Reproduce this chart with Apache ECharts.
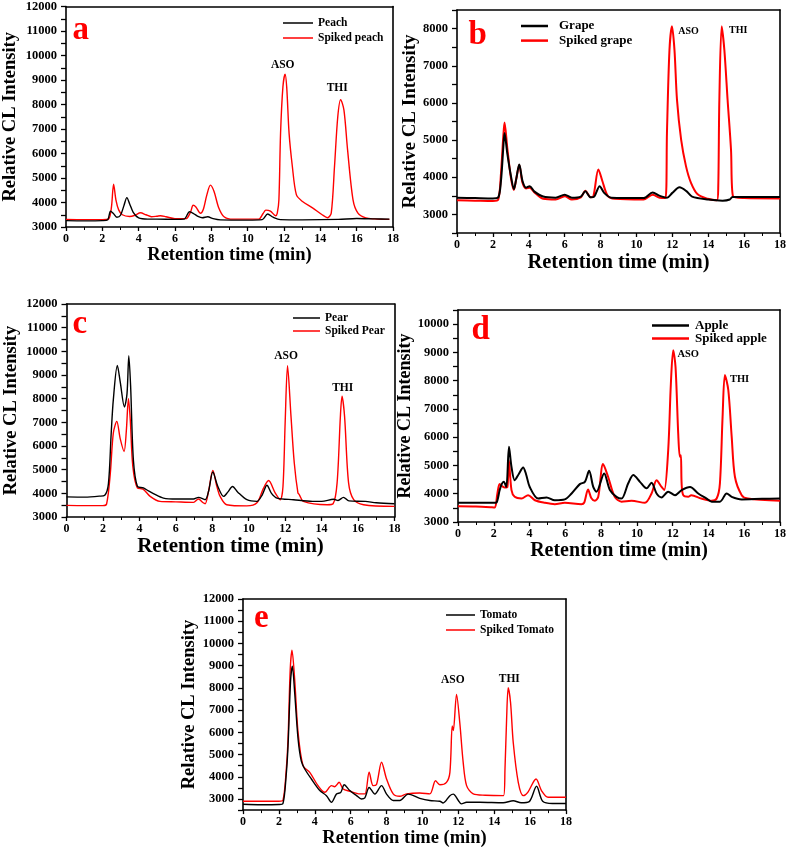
<!DOCTYPE html>
<html><head><meta charset="utf-8">
<script src="https://cdn.jsdelivr.net/npm/echarts@6/dist/echarts.min.js"></script>
<style>html,body{margin:0;padding:0;background:#fff}#c{width:789px;height:849px}</style>
</head><body><div id="c"></div>
<script>
// ---------- DATA (retention time min, relative CL intensity) ----------
const peach = [[0,3260],[1,3250],[2,3260],[2.3,3300],[2.45,3650],[2.6,3560],[2.8,3400],[3.0,3480],[3.2,3900],[3.35,4200],[3.5,3950],[3.7,3600],[4.0,3370],[4.5,3320],[5,3320],[6,3310],[6.5,3320],[6.8,3620],[7.0,3560],[7.3,3420],[7.5,3380],[7.8,3420],[8.1,3340],[8.5,3290],[10,3280],[10.8,3300],[11.1,3530],[11.4,3400],[11.8,3300],[13,3290],[15,3310],[16,3350],[17,3330],[17.8,3320]];
const spikedPeach = [[0,3310],[1,3300],[2,3300],[2.35,3330],[2.5,3800],[2.62,4750],[2.75,4100],[2.9,3700],[3.1,3500],[3.5,3430],[3.8,3480],[4.1,3580],[4.4,3500],[4.7,3420],[5.0,3440],[5.2,3460],[5.5,3420],[6.0,3340],[6.6,3340],[6.85,3600],[7.0,3890],[7.15,3820],[7.4,3560],[7.55,3700],[7.75,4300],[7.95,4710],[8.15,4450],[8.4,3800],[8.7,3420],[9.2,3320],[10.6,3320],[10.85,3550],[11.0,3690],[11.25,3650],[11.54,3460],[11.63,3570],[11.72,4110],[11.81,6820],[11.94,8720],[12.06,9240],[12.15,8700],[12.28,6820],[12.46,5470],[12.68,4320],[13.0,4050],[13.57,3780],[14.1,3500],[14.4,3380],[14.6,3570],[14.78,5470],[14.96,7500],[15.12,8200],[15.3,7770],[15.5,6150],[15.8,4110],[16.07,3570],[16.5,3370],[17,3330],[17.8,3310]];

const grape = [[0,3450],[1,3440],[2,3430],[2.3,3460],[2.45,3900],[2.58,4800],[2.65,5190],[2.8,4650],[3.0,4050],[3.17,3680],[3.3,3950],[3.47,4340],[3.65,3900],[3.85,3720],[4.05,3760],[4.3,3620],[4.8,3480],[5.5,3450],[6.0,3530],[6.4,3450],[6.9,3480],[7.15,3620],[7.45,3460],[7.65,3480],[7.95,3760],[8.2,3580],[8.6,3450],[10.4,3440],[10.9,3590],[11.3,3500],[11.7,3450],[12.0,3580],[12.4,3730],[12.8,3620],[13.1,3480],[14.0,3400],[14.8,3370],[15.2,3400],[15.35,3470],[16,3470],[18,3470]];
const spikedGrape = [[0,3380],[1,3370],[2,3360],[2.3,3400],[2.45,4100],[2.58,5100],[2.65,5470],[2.8,4800],[3.0,4000],[3.17,3660],[3.3,3950],[3.47,4330],[3.65,3850],[3.85,3700],[4.05,3720],[4.3,3600],[4.8,3420],[5.5,3400],[6.0,3490],[6.4,3400],[6.9,3460],[7.15,3640],[7.45,3460],[7.6,3490],[7.88,4210],[8.1,3900],[8.4,3500],[8.8,3420],[10.4,3400],[10.9,3530],[11.3,3450],[11.62,3440],[11.7,5190],[11.84,7420],[11.98,8060],[12.12,7420],[12.26,6080],[12.49,5010],[12.76,4300],[13.04,3850],[13.41,3540],[13.97,3420],[14.49,3380],[14.56,3760],[14.62,6080],[14.75,8060],[14.9,7420],[15.08,6080],[15.27,4740],[15.38,3490],[16,3440],[18,3430]];

const pear = [[0,3850],[1,3840],[1.8,3880],[2.1,3920],[2.3,4400],[2.45,6500],[2.57,7960],[2.79,9400],[2.95,8700],[3.18,7650],[3.32,8200],[3.42,9820],[3.52,8500],[3.67,5420],[3.89,4300],[4.22,4230],[4.5,4100],[4.77,3990],[5.32,3800],[6.05,3760],[6.97,3760],[7.24,3830],[7.61,3730],[7.8,4100],[8.03,4900],[8.3,4300],[8.62,3870],[8.85,4050],[9.11,4290],[9.4,4050],[9.9,3730],[10.45,3660],[10.75,3950],[11.0,4340],[11.25,4000],[11.55,3800],[12.46,3730],[13.5,3660],[14.0,3660],[14.66,3750],[14.9,3700],[15.2,3830],[15.5,3680],[16.4,3660],[17,3600],[18,3560]];
const spikedPear = [[0,3490],[1,3480],[2,3480],[2.2,3550],[2.4,4800],[2.57,6550],[2.76,7040],[2.95,6300],[3.16,5770],[3.28,6600],[3.4,8000],[3.5,7100],[3.64,5140],[3.89,4230],[4.2,4180],[4.59,3870],[5.13,3660],[6.0,3640],[6.97,3620],[7.24,3760],[7.5,3600],[7.61,3560],[7.8,4100],[8.03,4970],[8.25,4300],[8.43,3870],[8.79,3520],[9.9,3470],[10.45,3600],[10.8,4200],[11.09,4540],[11.45,4020],[11.73,3730],[11.88,4290],[12.0,7000],[12.13,9390],[12.32,7250],[12.5,5280],[12.7,4020],[12.78,3940],[13.0,3660],[14.3,3520],[14.63,3560],[14.85,4440],[15.03,7250],[15.12,8100],[15.26,7250],[15.48,4440],[15.76,3730],[16.3,3520],[18,3450]];

const apple = [[0,3680],[1,3680],[2,3680],[2.15,3690],[2.33,4130],[2.45,4350],[2.56,4420],[2.7,4240],[2.85,5660],[2.99,4950],[3.17,4480],[3.4,4700],[3.64,4930],[3.8,4700],[4.01,4240],[4.48,3830],[4.95,3870],[5.41,3770],[5.97,3800],[6.35,4010],[6.81,4340],[7.09,4420],[7.33,4810],[7.56,4240],[7.74,4070],[8.17,4720],[8.49,4130],[8.86,3890],[9.14,3830],[9.51,4360],[9.8,4660],[10.17,4420],[10.54,4190],[10.82,4390],[11.1,4010],[11.38,3870],[11.75,4070],[12.13,3950],[12.5,4130],[12.97,4240],[13.43,4010],[13.9,3830],[14.18,3720],[14.64,3720],[15.02,4010],[15.3,3890],[15.86,3800],[17,3820],[18,3830]];
const spikedApple = [[0,3560],[1,3550],[1.9,3520],[2.06,3510],[2.2,4000],[2.33,4340],[2.5,4250],[2.61,4220],[2.76,4240],[2.84,5190],[2.99,4130],[3.17,3890],[3.55,3830],[3.92,3950],[4.3,3770],[4.85,3680],[5.41,3630],[5.97,3680],[6.9,3630],[7.05,3680],[7.27,4150],[7.45,3850],[7.65,3750],[7.84,3890],[8.11,5050],[8.39,4600],[8.76,3890],[9.14,3720],[9.7,3750],[10.45,3680],[10.82,4010],[11.1,4480],[11.38,4240],[11.53,4130],[11.75,5540],[11.9,7900],[12.03,9080],[12.16,8490],[12.31,6130],[12.4,5310],[12.46,5360],[12.5,4360],[12.59,3950],[12.87,3890],[13.04,3950],[13.6,3830],[14.18,3750],[14.46,3830],[14.64,4360],[14.79,6720],[14.92,8200],[15.11,7670],[15.3,6010],[15.48,4600],[15.86,3950],[16.2,3830],[18,3750]];

const tomato = [[0,2760],[1,2740],[2,2750],[2.23,2800],[2.4,4000],[2.51,5400],[2.65,8300],[2.75,8980],[2.88,7780],[3.07,5690],[3.25,4700],[3.44,4350],[3.81,3900],[4.28,3380],[4.65,3150],[4.93,2850],[5.21,3220],[5.45,3300],[5.64,3640],[5.95,3380],[6.33,3150],[6.6,3000],[6.79,3050],[7.03,3520],[7.35,3220],[7.72,3600],[8.0,3220],[8.37,2930],[8.74,2930],[9.2,3220],[9.85,3030],[10.41,2930],[10.97,2900],[11.15,2820],[11.53,3150],[11.72,3220],[12.0,2930],[12.17,2780],[12.46,2850],[13.2,2850],[14.5,2830],[15.06,2920],[15.5,2830],[15.95,2880],[16.36,3570],[16.7,2900],[17.25,2800],[18,2800]];
const spikedTomato = [[0,2900],[1,2900],[2,2900],[2.23,2950],[2.4,4200],[2.51,5690],[2.63,8800],[2.73,9700],[2.88,8380],[3.07,5990],[3.35,4490],[3.72,4200],[4.18,3600],[4.56,3300],[4.93,3600],[5.1,3550],[5.36,3750],[5.58,3450],[5.95,3350],[6.51,3230],[6.79,3230],[7.03,4200],[7.25,3600],[7.44,3650],[7.72,4650],[8.0,3900],[8.37,3230],[8.74,3120],[9.11,3230],[9.85,3270],[10.41,3230],[10.73,3820],[10.97,3640],[11.34,3750],[11.53,4200],[11.66,6290],[11.72,6080],[11.9,7710],[12.08,6440],[12.27,4650],[12.46,3600],[12.83,3230],[13.5,3170],[14.52,3150],[14.6,4350],[14.69,6590],[14.78,8010],[14.91,7340],[15.06,5540],[15.34,3750],[15.62,3150],[15.87,3300],[16.33,3900],[16.64,3370],[17.0,3080],[18,3080]];

const seriesNames = [['Peach','Spiked peach'],['Grape','Spiked grape'],['Pear','Spiked Pear'],['Apple','Spiked apple'],['Tomato','Spiked Tomato']];
const seriesData = [[peach,spikedPeach],[grape,spikedGrape],[pear,spikedPear],[apple,spikedApple],[tomato,spikedTomato]];
const panelLetters = ['a','b','c','d','e'];
const yRanges = [[3000,12000],[2500,8500],[3000,12000],[3000,10500],[2500,12000]];
const xRange = [0,18];
// peak annotations: [text, retention time, intensity]
const peakLabels = [
  [['ASO',11.93,9600],['THI',14.93,8690]],
  [['ASO',12.9,7920],['THI',15.67,7945]],
  [['ASO',12.05,9800],['THI',15.16,8440]],
  [['ASO',12.87,8940],['THI',15.74,8046]],
  [['ASO',11.69,8336],['THI',14.84,8413]]
];
const xTitle = 'Retention time (min)';
const yTitle = 'Relative CL Intensity';

// ---------- LAYOUT / STYLE ----------
const FONT = '"Times New Roman","Liberation Serif",serif';
const layout = [
  {grid:{left:66,top:6,width:327,height:221}, yGap:46, xGap:15, xNs:18.5, yNs:18.5, lw:1.4, lab:12.5,
   leg:{left:283,top:17,w:30,gap:3,fs:11.5,pad:0,lh:1.5}, pk:11.5, letter:[72.5,30.8]},
  {grid:{left:457,top:10,width:324,height:223}, yGap:37, xGap:14, xNs:20.5, yNs:19, lw:2, lab:12.5,
   leg:{left:521,top:19.5,w:27,gap:1.6,fs:13,pad:6,lh:2.5}, pk:10, letter:[468.5,35.5]},
  {grid:{left:66.5,top:304,width:328,height:213}, yGap:46, xGap:15, xNs:21, yNs:18.5, lw:1.4, lab:12.5,
   leg:{left:293,top:312,w:27,gap:1,fs:11.5,pad:0,lh:1.5}, pk:11.5, letter:[72.5,324.8]},
  {grid:{left:458,top:310,width:322,height:212}, yGap:36, xGap:16, xNs:20, yNs:18, lw:2, lab:12.5,
   leg:{left:652,top:319,w:37,gap:0,fs:13,pad:1,lh:2.5}, pk:10.5, letter:[471.5,330.5]},
  {grid:{left:243,top:599,width:323,height:212}, yGap:41, xGap:17, xNs:18.5, yNs:18.5, lw:1.4, lab:12.5,
   leg:{left:446,top:609,w:29,gap:3,fs:11.5,pad:0,lh:1.5}, pk:11.5, letter:[254,618.8]}
];
const colors = ['#000000','#ff0000'];

const grid = [], xAxis = [], yAxis = [], series = [], legend = [], graphic = [];
layout.forEach((L, i) => {
  grid.push(Object.assign({containLabel:false}, L.grid));
  const [ymin, ymax] = yRanges[i];
  const lineStyle = {color:'#000', width:1.6};
  xAxis.push({
    gridIndex:i, type:'value', min:xRange[0], max:xRange[1], interval:2, position:'bottom',
    axisLine:{show:true, onZero:false, lineStyle},
    axisTick:{show:true, inside:false, length:4, lineStyle:{color:'#000', width:1.3}},
    minorTick:{show:true, splitNumber:2, length:3, lineStyle:{color:'#000', width:1}},
    axisLabel:{color:'#000', fontFamily:FONT, fontWeight:'bold', fontSize:12, margin:6},
    splitLine:{show:false},
    name:xTitle, nameLocation:'middle', nameGap:L.xGap,
    nameTextStyle:{color:'#000', fontFamily:FONT, fontWeight:'bold', fontSize:L.xNs}
  });
  xAxis.push({
    gridIndex:i, type:'value', min:xRange[0], max:xRange[1], position:'top',
    axisLine:{show:true, onZero:false, lineStyle}, axisTick:{show:false}, axisLabel:{show:false}, splitLine:{show:false}
  });
  yAxis.push({
    gridIndex:i, type:'value', min:ymin, max:ymax, interval:500, position:'left',
    axisLine:{show:true, onZero:false, lineStyle},
    axisTick:{show:true, inside:false, length:5, lineStyle:{color:'#000', width:1.3}},
    axisLabel:{color:'#000', fontFamily:FONT, fontWeight:'bold', fontSize:L.lab, margin:9,
      formatter: v => (v % 1000 === 0 ? String(v) : '')},
    splitLine:{show:false},
    name:yTitle, nameLocation:'middle', nameGap:L.yGap,
    nameTextStyle:{color:'#000', fontFamily:FONT, fontWeight:'bold', fontSize:L.yNs}
  });
  yAxis.push({
    gridIndex:i, type:'value', min:ymin, max:ymax, position:'right',
    axisLine:{show:true, onZero:false, lineStyle}, axisTick:{show:false}, axisLabel:{show:false}, splitLine:{show:false}
  });
  seriesNames[i].forEach((nm, k) => {
    const s = {
      name:nm, type:'line', xAxisIndex:2*i, yAxisIndex:2*i, data:seriesData[i][k],
      symbol:'none', smooth:0.3,
      lineStyle:{color:colors[k], width:L.lw}, itemStyle:{color:colors[k]},
      z: k === 0 ? 3 : 2, silent:true
    };
    if (k === 1) {
      s.markPoint = {
        symbol:'rect', symbolSize:1, itemStyle:{color:'rgba(0,0,0,0)'}, silent:true,
        label:{show:true, position:'inside', color:'#000', fontFamily:FONT, fontWeight:'bold', fontSize:L.pk,
          formatter: p => p.name},
        data: peakLabels[i].map(p => ({name:p[0], coord:[p[1], p[2]]}))
      };
    }
    series.push(s);
  });
  legend.push({
    data:seriesNames[i].map(n => ({name:n, icon:'rect'})), orient:'vertical', left:L.leg.left, top:L.leg.top,
    itemWidth:L.leg.w, itemHeight:L.leg.lh, itemGap:L.leg.gap + (12 - 12), selectedMode:false, padding:0,
    textStyle:{color:'#000', fontFamily:FONT, fontWeight:'bold', fontSize:L.leg.fs, lineHeight:12,
      padding:[0,0,0,L.leg.pad]}
  });
  graphic.push({
    type:'text', x:L.letter[0], y:L.letter[1], silent:true,
    style:{text:panelLetters[i], x:0, y:0, fill:'#ff0000', font:'bold 33px ' + FONT,
      textAlign:'left', textVerticalAlign:'middle', verticalAlign:'middle'}
  });
});

const chart = echarts.init(document.getElementById('c'), null, {renderer:'canvas'});
chart.setOption({animation:false, backgroundColor:'#fff', grid, xAxis, yAxis, series, legend, graphic});
</script>
</body></html>
